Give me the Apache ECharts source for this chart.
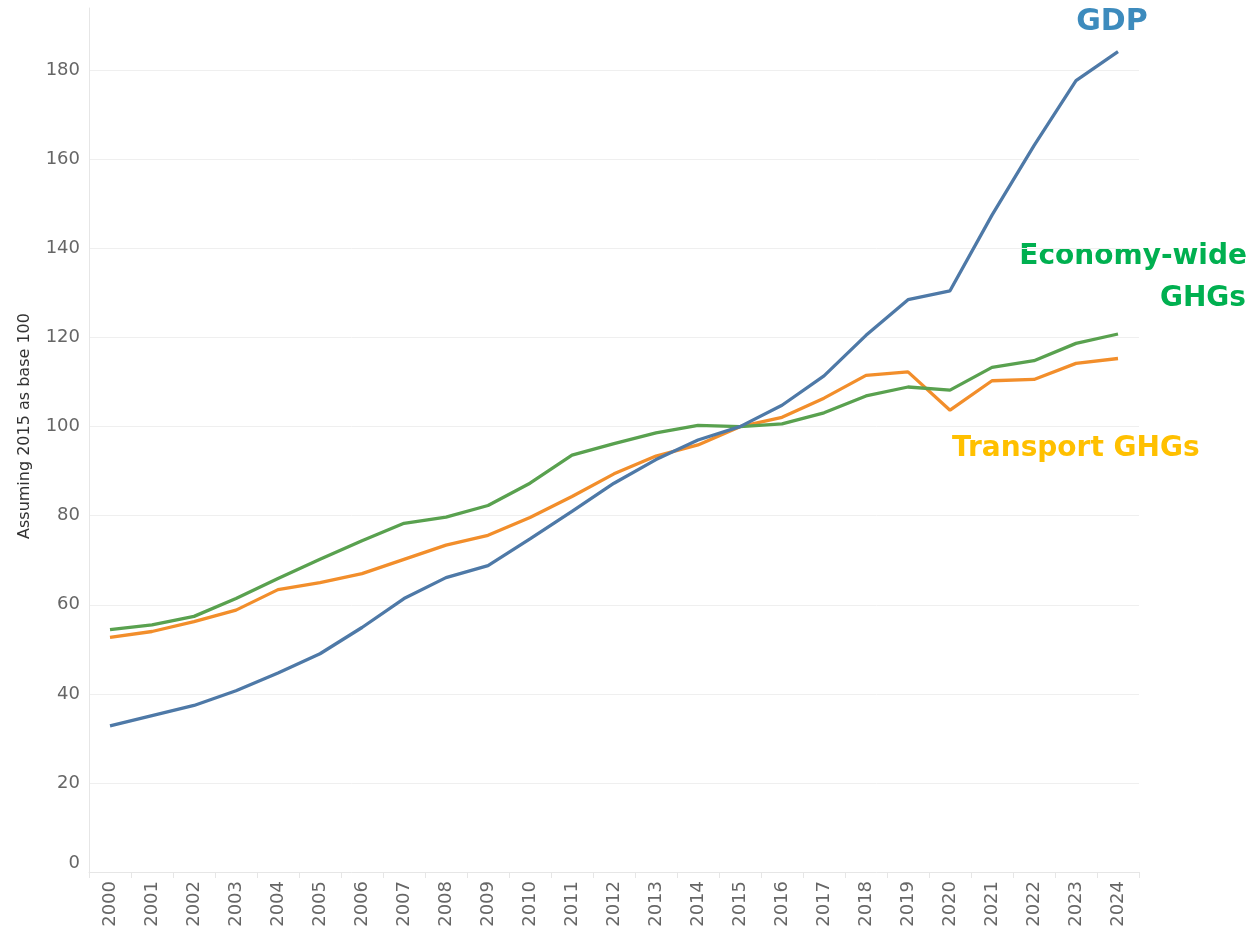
<!DOCTYPE html>
<html>
<head>
<meta charset="utf-8">
<script src="https://cdn.jsdelivr.net/npm/echarts@6/dist/echarts.min.js"></script>
<style>
  html, body { margin: 0; padding: 0; background: #fff; }
  #chart { width: 1250px; height: 930px; }
</style>
</head>
<body>
<div id="chart"></div>
<script>
// 年份
var years = ['2000','2001','2002','2003','2004','2005','2006','2007','2008','2009','2010','2011','2012',
             '2013','2014','2015','2016','2017','2018','2019','2020','2021','2022','2023','2024'];

// 指数 (2015 = 100)
var gdp = [32.8, 35.1, 37.4, 40.7, 44.7, 49.0, 54.9, 61.4, 66.1, 68.8, 74.8, 81.0, 87.3,
           92.6, 97.0, 100.0, 104.8, 111.4, 120.5, 128.5, 130.5, 147.5, 163.1, 177.7, 184.2];
var economyGhg = [54.4, 55.5, 57.4, 61.4, 65.9, 70.2, 74.4, 78.3, 79.7, 82.3, 87.3, 93.6, 96.2,
                  98.6, 100.3, 100.0, 100.6, 103.1, 106.9, 108.9, 108.2, 113.3, 114.8, 118.7, 120.8];
var transportGhg = [52.7, 54.0, 56.2, 58.8, 63.4, 65.0, 67.0, 70.2, 73.4, 75.6, 79.6, 84.3, 89.4,
                    93.4, 95.9, 100.0, 102.1, 106.4, 111.5, 112.3, 103.7, 110.3, 110.6, 114.2, 115.3];

function indexChart(){
    var axisGrey = '#e6e6e6';
    var labelFont = 'DejaVu Sans';
    var option = {
        backgroundColor: '#fff',
        animation: false,
        grid: {
            left: 89,
            right: 111,
            top: 8,
            bottom: 58,
            containLabel: false
        },
        xAxis: {
            type: 'category',
            data: years,
            boundaryGap: true,
            axisLine: { show: true, lineStyle: { color: axisGrey } },
            axisTick: { show: true, length: 6, lineStyle: { color: axisGrey } },
            axisLabel: {
                rotate: 90,
                margin: 9,
                color: '#666',
                fontFamily: labelFont,
                fontSize: 18,
                interval: 0
            },
            splitLine: { show: false }
        },
        yAxis: {
            type: 'value',
            min: 0,
            max: 194,
            interval: 20,
            name: 'Assuming 2015 as base 100',
            nameLocation: 'middle',
            nameGap: 56,
            nameTextStyle: { color: '#333', fontFamily: labelFont, fontSize: 16, padding: [0, 0, 0, 28] },
            axisLine: { show: true, lineStyle: { color: axisGrey } },
            axisTick: { show: false },
            axisLabel: {
                color: '#666',
                fontFamily: labelFont,
                fontSize: 18,
                margin: 9,
                showMaxLabel: false,
                verticalAlignMinLabel: 'bottom'
            },
            splitLine: {
                show: true,
                showMaxLine: false,
                showMinLine: false,
                lineStyle: { color: '#efefef', width: 1 }
            }
        },
        series: [
            {
                name: 'Transport GHGs',
                type: 'line',
                symbol: 'none',
                lineStyle: { color: '#f28e2b', width: 3.3 },
                data: transportGhg
            },
            {
                name: 'Economy-wide GHGs',
                type: 'line',
                symbol: 'none',
                lineStyle: { color: '#59a14f', width: 3.3 },
                data: economyGhg
            },
            {
                name: 'GDP',
                type: 'line',
                symbol: 'none',
                lineStyle: { color: '#4e79a7', width: 3.3 },
                data: gdp
            }
        ],
        // 线条标注
        graphic: [
            {
                type: 'text', x: 1112, y: 22,
                style: { text: 'GDP', fill: '#3d8bbd', font: 'bold 30px "DejaVu Sans"', align: 'center', verticalAlign: 'middle' }
            },
            {
                type: 'text', x: 1247, y: 257,
                style: { text: 'Economy-wide', fill: '#00b050', font: 'bold 28px "DejaVu Sans"', align: 'right', verticalAlign: 'middle' }
            },
            {
                type: 'text', x: 1246, y: 299,
                style: { text: 'GHGs', fill: '#00b050', font: 'bold 28px "DejaVu Sans"', align: 'right', verticalAlign: 'middle' }
            },
            {
                type: 'text', x: 952, y: 449,
                style: { text: 'Transport GHGs', fill: '#ffc000', font: 'bold 28px "DejaVu Sans"', align: 'left', verticalAlign: 'middle' }
            }
        ]
    };
    var myChart = echarts.init(document.getElementById('chart'));
    myChart.setOption(option);
}

indexChart();
</script>
</body>
</html>
